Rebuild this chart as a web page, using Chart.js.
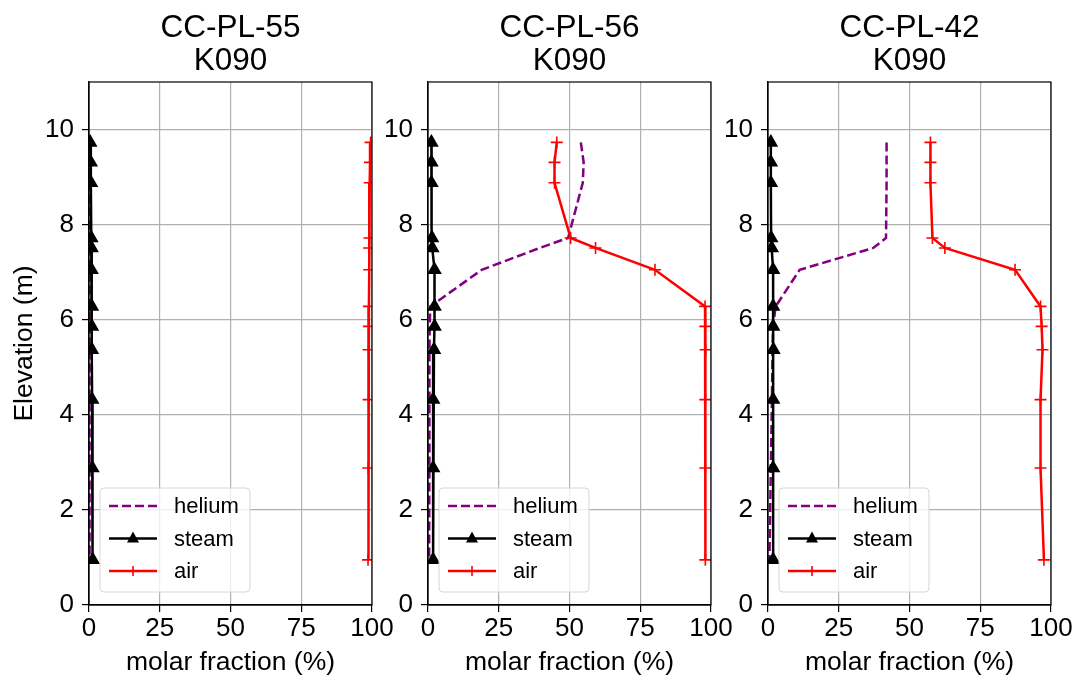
<!DOCTYPE html>
<html>
<head>
<meta charset="utf-8">
<script src="https://cdn.jsdelivr.net/npm/chart.js@4.4.1/dist/chart.umd.min.js"></script>
<style>
  body { margin: 0; background: #fff; }
  .panel { position: absolute; top: 0; height: 679px; }
</style>
</head>
<body>
<div class="panel" style="left:0;width:400px"><canvas id="c1"></canvas></div>
<div class="panel" style="left:380px;width:365px"><canvas id="c2"></canvas></div>
<div class="panel" style="left:720px;width:361px"><canvas id="c3"></canvas></div>
<script>
const elevation = [9.73, 9.31, 8.88, 7.72, 7.51, 7.05, 6.28, 5.86, 5.37, 4.32, 2.88, 0.95];
const xTicks = [0, 25, 50, 75, 100];
const yTicks = [0, 2, 4, 6, 8, 10];

const titles = [['CC-PL-55', 'K090'], ['CC-PL-56', 'K090'], ['CC-PL-42', 'K090']];

const helium55 = [0.2, 0.2, 0.2, 0.2, 0.2, 0.2, 0.2, 0.2, 0.2, 0.2, 0.2, 0.2];
const steam55 = [0.4, 0.6, 0.7, 0.8, 0.9, 0.9, 1.0, 1.0, 1.0, 1.1, 1.2, 1.3];
const air55 = [99.5, 99.3, 99.2, 99.1, 99.0, 99.0, 98.9, 98.9, 98.8, 98.8, 98.7, 98.6];

const helium56 = [54.0, 55.0, 54.7, 49.5, 39.5, 19.0, 0.8, 0.6, 0.5, 0.5, 0.5, 0.4];
const steam56 = [1.2, 1.2, 1.2, 1.4, 1.5, 2.3, 2.3, 2.3, 2.1, 1.8, 1.8, 1.8];
const air56 = [45.5, 44.7, 44.7, 50.4, 59.2, 80.2, 97.9, 98.0, 98.1, 98.0, 98.0, 98.0];

const helium42 = [41.9, 41.9, 41.9, 41.7, 37.2, 11.2, 2.7, 1.8, 1.6, 1.4, 1.0, 0.5];
const steam42 = [1.0, 1.0, 1.0, 1.1, 1.3, 1.8, 1.8, 1.8, 1.9, 1.8, 1.8, 1.8];
const air42 = [57.4, 57.4, 57.4, 58.1, 62.5, 87.3, 96.3, 96.7, 97.0, 96.3, 96.3, 97.5];

const FONT = '"Liberation Sans", Arial, sans-serif';

function pts(vals) {
  return vals.map((v, i) => ({ x: v, y: elevation[i] }));
}

// full black frame + two-line title centred over the axes
const frameTitlePlugin = {
  id: 'frameTitle',
  afterDraw(chart) {
    const a = chart.chartArea, ctx = chart.ctx;
    ctx.save();
    ctx.strokeStyle = '#000';
    ctx.lineWidth = 1.2;
    ctx.strokeRect(a.left, a.top, a.right - a.left, a.bottom - a.top);
    const t = chart.options.plugins.frameTitle.text;
    ctx.fillStyle = '#000';
    ctx.font = '31.5px ' + FONT;
    ctx.textAlign = 'center';
    ctx.textBaseline = 'middle';
    const cx = (a.left + a.right) / 2;
    ctx.fillText(t[0], cx, 28);
    ctx.fillText(t[1], cx, 61);
    ctx.restore();
  }
};

// matplotlib style legend in lower left
const legendPlugin = {
  id: 'mplLegend',
  afterDraw(chart) {
    const a = chart.chartArea, ctx = chart.ctx;
    const x0 = a.left + 11, y0 = a.bottom - 117, w = 150, h = 104;
    ctx.save();
    ctx.fillStyle = 'rgba(255,255,255,0.8)';
    ctx.strokeStyle = '#d6d6d6';
    ctx.lineWidth = 1;
    ctx.beginPath();
    ctx.roundRect(x0, y0, w, h, 4);
    ctx.fill();
    ctx.stroke();
    chart.data.datasets.forEach((ds, i) => {
      const yy = y0 + 18 + i * 32.5;
      const lx1 = x0 + 9, lx2 = x0 + 57;
      ctx.strokeStyle = ds.borderColor;
      ctx.lineWidth = 2.4;
      ctx.setLineDash(ds.borderDash || []);
      ctx.beginPath();
      ctx.moveTo(lx1, yy);
      ctx.lineTo(lx2, yy);
      ctx.stroke();
      ctx.setLineDash([]);
      const cx = (lx1 + lx2) / 2;
      if (ds.pointStyle === 'triangle') {
        ctx.fillStyle = ds.borderColor;
        ctx.beginPath();
        ctx.moveTo(cx, yy - 7);
        ctx.lineTo(cx + 6, yy + 4);
        ctx.lineTo(cx - 6, yy + 4);
        ctx.closePath();
        ctx.fill();
      } else if (ds.pointStyle === 'cross') {
        ctx.lineWidth = 1.6;
        ctx.beginPath();
        ctx.moveTo(cx, yy - 5);
        ctx.lineTo(cx, yy + 5);
        ctx.stroke();
      }
      ctx.fillStyle = '#000';
      ctx.font = '22px ' + FONT;
      ctx.textAlign = 'left';
      ctx.textBaseline = 'middle';
      ctx.fillText(ds.label, x0 + 74, yy + 1);
    });
    ctx.restore();
  }
};

function makeChart(id, title, he, st, ai, yWidth, padRight, showYTitle) {
  new Chart(document.getElementById(id), {
    type: 'scatter',
    data: {
      datasets: [
        { label: 'helium', data: pts(he), showLine: true, borderColor: '#800080', borderWidth: 2.5,
          borderDash: [9, 4], pointRadius: 0, order: 2 },
        { label: 'steam', data: pts(st), showLine: true, borderColor: '#000', backgroundColor: '#000',
          borderWidth: 2.5, pointStyle: 'triangle', pointRadius: 6, order: 1 },
        { label: 'air', data: pts(ai), showLine: true, borderColor: '#ff0000', backgroundColor: '#ff0000',
          borderWidth: 2.5, pointStyle: 'cross', pointRadius: 6, pointBorderWidth: 1.6, order: 0 }
      ]
    },
    options: {
      responsive: true,
      maintainAspectRatio: false,
      animation: false,
      layout: { padding: { right: padRight, left: 0, bottom: 0, top: 82 } },
      plugins: {
        legend: { display: false },
        tooltip: { enabled: false },
        frameTitle: { text: title }
      },
      scales: {
        x: {
          type: 'linear', min: 0, max: 100,
          afterBuildTicks: s => { s.ticks = xTicks.map(v => ({ value: v })); },
          afterFit: s => { s.height = 74; s.paddingLeft = 0; s.paddingRight = 0; },
          ticks: { color: '#000', font: { family: FONT, size: 26 }, padding: 1, maxRotation: 0 },
          grid: { color: '#b0b0b0', lineWidth: 1.2, tickLength: 7, tickColor: '#000' },
          border: { color: '#000', width: 1.2 },
          title: { display: true, text: 'molar fraction (%)', color: '#000',
                   font: { family: FONT, size: 26.5, lineHeight: 1.2 }, padding: { top: 4, bottom: 0 } }
        },
        y: {
          type: 'linear', min: 0, max: 11,
          afterBuildTicks: s => { s.ticks = yTicks.map(v => ({ value: v })); },
          afterFit: s => { s.width = yWidth; s.paddingTop = 0; s.paddingBottom = 0; },
          ticks: { color: '#000', font: { family: FONT, size: 26 }, padding: 8 },
          grid: { color: '#b0b0b0', lineWidth: 1.2, tickLength: 7, tickColor: '#000' },
          border: { color: '#000', width: 1.2 },
          title: { display: showYTitle, text: 'Elevation (m)', color: '#000',
                   font: { family: FONT, size: 26.5, lineHeight: 1.2 }, padding: { top: 9, bottom: 0 } }
        }
      }
    },
    plugins: [frameTitlePlugin, legendPlugin]
  });
}

makeChart('c1', titles[0], helium55, steam55, air55, 89, 28, true);
makeChart('c2', titles[1], helium56, steam56, air56, 48, 34, false);
makeChart('c3', titles[2], helium42, steam42, air42, 48, 30, false);
</script>
</body>
</html>
